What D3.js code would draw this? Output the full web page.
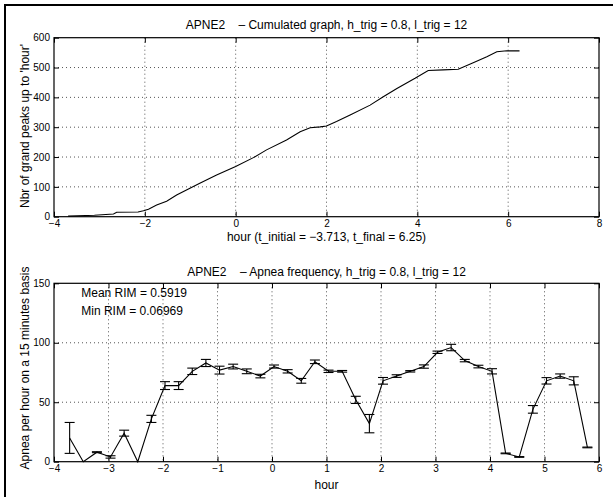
<!DOCTYPE html>
<html>
<head>
<meta charset="utf-8">
<script src="https://cdn.jsdelivr.net/npm/d3@7"></script>
<style>
  html, body { margin: 0; padding: 0; background: #fff; }
  svg { display: block; }
  text { font-family: "Liberation Sans", Arial, Helvetica, sans-serif; fill: #000; white-space: pre; }
</style>
</head>
<body>
<svg id="chart" width="613" height="497"></svg>
<script>
// Cumulated count of grand peaks versus hour
const cumHour  = [-3.69, -3.11, -2.69, -2.62, -2.15, -2.03, -1.92, -1.74, -1.52, -1.30, -1.04, -0.79, -0.42, 0.0, 0.39, 0.68, 1.12, 1.42, 1.64, 1.86, 2.0, 2.22, 2.52, 2.96, 3.25, 3.55, 3.95, 4.24, 4.57, 4.90, 5.23, 5.53, 5.75, 5.97, 6.25];
const cumCount = [2, 5, 9, 15, 16, 20, 25, 39, 52, 73, 93, 112, 140, 168, 198, 224, 257, 285, 298, 301, 304, 319, 341, 374, 402, 430, 464, 490, 492, 494, 516, 536, 553, 556, 556];

// Apnea frequency on 15-minute windows, with error half-widths
const freqHour = [-3.713, -3.463, -3.213, -2.963, -2.713, -2.463, -2.213, -1.963, -1.713, -1.463, -1.213, -0.963, -0.713, -0.463, -0.213, 0.037, 0.287, 0.537, 0.787, 1.037, 1.287, 1.537, 1.787, 2.037, 2.287, 2.537, 2.787, 3.037, 3.287, 3.537, 3.787, 4.037, 4.287, 4.537, 4.787, 5.037, 5.287, 5.537, 5.787];
const freqRate = [20, 0, 8, 4, 24, 0, 36, 64, 64, 76, 83, 77, 80, 76, 72, 80, 76, 68, 84, 76, 76, 52, 32, 68, 72, 76, 80, 92, 96, 85, 80, 76, 7, 4, 44, 68, 72, 68, 12];
const freqErr  = [13, 0, 0.4, 1, 2.5, 0, 3, 3.3, 3.3, 2.7, 3, 3.3, 2, 2, 1.5, 1.3, 1.4, 2, 1.5, 1, 0.7, 3, 7.7, 2.8, 1.1, 0.6, 1.4, 1, 2.7, 1, 1.1, 2.2, 0.3, 0.3, 3.2, 2.7, 1.8, 3.4, 0.3];

// Tick values
const topXTicks = [-4, -2, 0, 2, 4, 6, 8];
const topYTicks = [0, 100, 200, 300, 400, 500, 600];
const botXTicks = [-4, -3, -2, -1, 0, 1, 2, 3, 4, 5, 6];
const botYTicks = [0, 50, 100, 150];

// Texts
const topTitle = "APNE2    \u2013 Cumulated graph, h_trig = 0.8, l_trig = 12";
const topXLabel = "hour (t_initial = \u22123.713, t_final = 6.25)";
const topYLabel = "Nbr of grand peaks up to 'hour'";
const botTitle = "APNE2    \u2013 Apnea frequency, h_trig = 0.8, l_trig = 12";
const botXLabel = "hour";
const botYLabel = "Apnea per hour on a 15 minutes basis";
const notes = ["Mean RIM = 0.5919", "Min RIM = 0.06969"];

const svg = d3.select("#chart");

// outer frame
svg.append("rect").attr("x", 5).attr("y", 5).attr("width", 620).attr("height", 510)
  .attr("fill", "none").attr("stroke", "#000").attr("stroke-width", 2);

const fmt = d => d < 0 ? "\u2212" + Math.abs(d) : String(d);
const TICK = 5;

function panel(cfg) {
  const { left, right, top, bottom, xDom, yDom, xTicks, yTicks } = cfg;
  const x = d3.scaleLinear().domain(xDom).range([left, right]);
  const y = d3.scaleLinear().domain(yDom).range([bottom, top]);
  const g = svg.append("g");

  // dotted grid
  const gridX = xTicks.filter(t => t > xDom[0] && t < xDom[1]);
  const gridY = yTicks.filter(t => t > yDom[0] && t < yDom[1]);
  g.selectAll(".gx").data(gridX).join("line")
    .attr("x1", d => x(d)).attr("x2", d => x(d)).attr("y1", top).attr("y2", bottom)
    .attr("stroke", "#555").attr("stroke-width", 1).attr("stroke-dasharray", "1,3");
  g.selectAll(".gy").data(gridY).join("line")
    .attr("x1", left).attr("x2", right).attr("y1", d => y(d)).attr("y2", d => y(d))
    .attr("stroke", "#555").attr("stroke-width", 1).attr("stroke-dasharray", "1,3");

  // axes with inward ticks (bottom/left labelled, top/right mirrored)
  const xb = d3.axisBottom(x).tickValues(xTicks).tickSize(-TICK).tickPadding(3).tickFormat(fmt);
  const xt = d3.axisTop(x).tickValues(xTicks).tickSize(-TICK).tickFormat("");
  const yl = d3.axisLeft(y).tickValues(yTicks).tickSize(-TICK).tickPadding(4).tickFormat(fmt);
  const yr = d3.axisRight(y).tickValues(yTicks).tickSize(-TICK).tickFormat("");
  const style = a => {
    a.select(".domain").remove();
    a.selectAll("line").attr("stroke", "#000");
    a.selectAll("text").attr("font-size", 10).attr("font-family", "Liberation Sans, Arial, sans-serif");
  };
  g.append("g").attr("transform", `translate(0,${bottom})`).call(xb).call(style);
  g.append("g").attr("transform", `translate(0,${top})`).call(xt).call(style);
  g.append("g").attr("transform", `translate(${left},0)`).call(yl).call(style);
  g.append("g").attr("transform", `translate(${right},0)`).call(yr).call(style);

  g.append("rect").attr("x", left).attr("y", top).attr("width", right - left).attr("height", bottom - top)
    .attr("fill", "none").attr("stroke", "#000").attr("stroke-width", 1.2);
  return { x, y, g };
}

// ---------- top panel: cumulated graph ----------
const P1 = panel({ left: 54, right: 599, top: 37.7, bottom: 216.7,
  xDom: [-4, 8], yDom: [0, 600], xTicks: topXTicks, yTicks: topYTicks });

P1.g.append("path")
  .datum(cumHour.map((h, i) => [h, cumCount[i]]))
  .attr("fill", "none").attr("stroke", "#000").attr("stroke-width", 1.1)
  .attr("d", d3.line().x(d => P1.x(d[0])).y(d => P1.y(d[1])));

svg.append("text").attr("x", 326.5).attr("y", 28.5).attr("text-anchor", "middle")
  .attr("font-size", 12).text(topTitle);
svg.append("text").attr("x", 326.5).attr("y", 241).attr("text-anchor", "middle")
  .attr("font-size", 12).text(topXLabel);
svg.append("text").attr("transform", `translate(29,126) rotate(-90)`).attr("text-anchor", "middle")
  .attr("font-size", 12).text(topYLabel);

// ---------- bottom panel: apnea frequency ----------
const P2 = panel({ left: 54, right: 599, top: 283.3, bottom: 461.7,
  xDom: [-4, 6], yDom: [0, 150], xTicks: botXTicks, yTicks: botYTicks });

const pts = freqHour.map((h, i) => ({ h, v: freqRate[i], e: freqErr[i] }));
P2.g.append("path").datum(pts)
  .attr("fill", "none").attr("stroke", "#000").attr("stroke-width", 1.1)
  .attr("d", d3.line().x(d => P2.x(d.h)).y(d => P2.y(d.v)));

const CAP = 5;
const eb = P2.g.selectAll(".eb").data(pts.filter(d => d.v > 0)).join("g")
  .attr("stroke", "#000").attr("stroke-width", 1.1);
eb.append("line").attr("x1", d => P2.x(d.h)).attr("x2", d => P2.x(d.h))
  .attr("y1", d => P2.y(d.v - d.e)).attr("y2", d => P2.y(d.v + d.e));
eb.append("line").attr("x1", d => P2.x(d.h) - CAP).attr("x2", d => P2.x(d.h) + CAP)
  .attr("y1", d => P2.y(d.v - d.e)).attr("y2", d => P2.y(d.v - d.e));
eb.append("line").attr("x1", d => P2.x(d.h) - CAP).attr("x2", d => P2.x(d.h) + CAP)
  .attr("y1", d => P2.y(d.v + d.e)).attr("y2", d => P2.y(d.v + d.e));

svg.append("text").attr("x", 326.5).attr("y", 276).attr("text-anchor", "middle")
  .attr("font-size", 12).text(botTitle);
svg.append("text").attr("x", 326.5).attr("y", 489).attr("text-anchor", "middle")
  .attr("font-size", 12).text(botXLabel);
svg.append("text").attr("transform", `translate(29,368) rotate(-90)`).attr("text-anchor", "middle")
  .attr("font-size", 12).text(botYLabel);

svg.selectAll(".note").data(notes).join("text")
  .attr("x", P2.x(-3.5)).attr("y", (d, i) => 296.7 + i * 18.3)
  .attr("font-size", 12).text(d => d);
</script>
</body>
</html>
